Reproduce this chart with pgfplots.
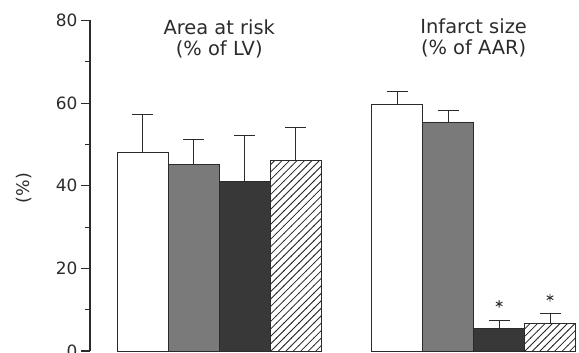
\documentclass[border=0pt]{standalone}
\usepackage{pgfplots}
\pgfplotsset{compat=1.18}
\usepackage{fontspec}
\setmainfont{DejaVu Sans}
\usetikzlibrary{patterns.meta}
\definecolor{ink}{HTML}{2B2B2B}
\definecolor{midgray}{HTML}{7A7A7A}
\definecolor{darkgray}{HTML}{383838}
\tikzdeclarepattern{
  name=myhatch,
  parameters={\hatchsize},
  bounding box={(-0.5pt,-0.5pt) and (\hatchsize+0.5pt,\hatchsize+0.5pt)},
  tile size={(\hatchsize,\hatchsize)},
  defaults={size/.store in=\hatchsize, size=7.5pt},
  code={\draw[line width=0.8pt] (-0.5pt,-0.5pt) -- (\hatchsize+0.5pt,\hatchsize+0.5pt);}
}
\pgfplotstableread{
x y e
0 48.1 9.1
5 59.8 3.0
}\tA
\pgfplotstableread{
x y e
1 45.2 5.9
6 55.3 2.8
}\tB
\pgfplotstableread{
x y e
2 41.1 11.1
7 5.5 2.0
}\tC
\pgfplotstableread{
x y e
3 46.1 8.1
8 6.7 2.3
}\tD
\begin{document}
\begin{tikzpicture}
\path[use as bounding box] (0,0) rectangle (579bp,353bp);
\begin{axis}[
  at={(90bp,2bp)}, anchor=south west,
  scale only axis, width=489bp, height=330.5bp,
  xmin=-1.04, xmax=8.57, ymin=0, ymax=80,
  axis x line=none, axis y line=left,
  y axis line style={-, line width=1.3pt, color=ink},
  ytick={0,20,40,60,80}, minor ytick={10,30,50,70},
  tick align=outside,
  major tick length=9bp, minor tick length=5bp,
  every tick/.style={line width=1.1pt, color=ink},
  yticklabel style={font=\fontsize{17}{20}\selectfont, color=ink},
  /pgf/number format/assume math mode=true,
  ylabel={(\%)},
  ylabel style={at={(axis description cs:-0.135,0.493)}, anchor=center, rotate=0, font=\fontsize{17.5}{20}\selectfont, color=ink},
  clip=false,
  ybar, bar width=1, bar shift=0pt,
  every axis plot/.append style={line width=0.9pt, draw=ink},
  error bars/y dir=plus, error bars/y explicit,
  error bars/error bar style={line width=1pt, color=ink},
  error bars/error mark options={rotate=90, mark size=10.5bp, line width=1pt, color=ink},
]
\addplot[fill=white] table[x=x, y=y, y error=e] {\tA};
\addplot[fill=midgray] table[x=x, y=y, y error=e] {\tB};
\addplot[fill=darkgray] table[x=x, y=y, y error=e] {\tC};
\addplot[fill=white, postaction={pattern={myhatch}, pattern color=ink}] table[x=x, y=y, y error=e] {\tD};
\addplot[only marks, mark=asterisk, mark size=3.8bp, mark options={color=ink, line width=0.9pt}, error bars/y dir=none, forget plot] coordinates {(7,11.4) (8,12.9)};
\node[align=center, font=\fontsize{19.5}{21}\selectfont, color=ink] at (axis cs:1.5,75.6) {Area at risk\\(\% of LV)};
\node[align=center, font=\fontsize{19.5}{21}\selectfont, color=ink] at (axis cs:6.5,75.8) {Infarct size\\(\% of AAR)};
\end{axis}
\end{tikzpicture}
\end{document}
